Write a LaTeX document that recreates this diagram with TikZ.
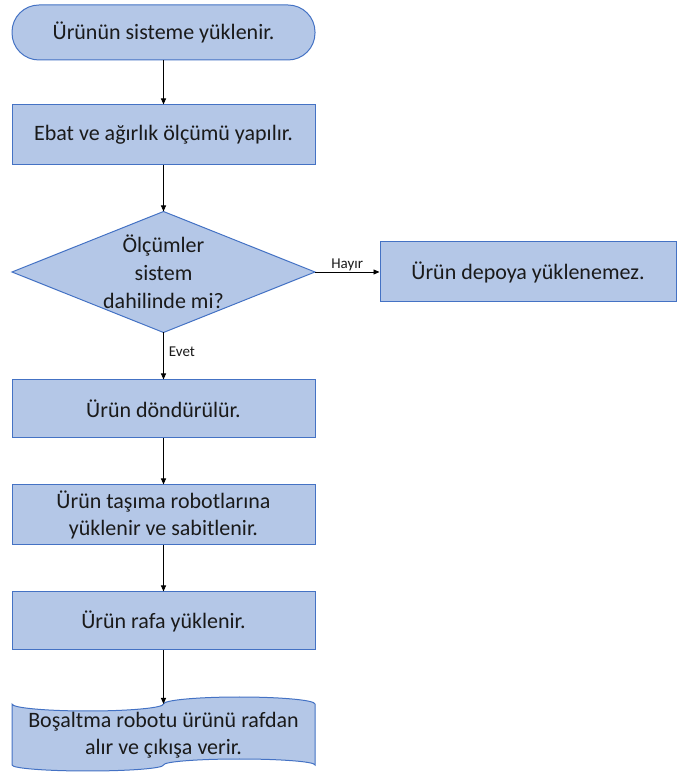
\documentclass[tikz,border=0pt]{standalone}
\usepackage{fontspec}
\setmainfont{Carlito}
\usetikzlibrary{arrows.meta}
\definecolor{boxfill}{HTML}{B4C7E7}
\definecolor{boxline}{HTML}{4472C4}
\definecolor{txt}{HTML}{1A1A1A}
\begin{document}
\begin{tikzpicture}[x=1pt,y=1pt,
  stepbox/.style={draw=boxline, fill=boxfill, line width=1pt, minimum width=303pt, minimum height=60pt, inner sep=0pt, align=center, font=\fontsize{22}{27}\selectfont, text=txt},
  shapeline/.style={draw=boxline, fill=boxfill, line width=1pt},
  plaintext/.style={align=center, inner sep=0pt, font=\fontsize{22}{28}\selectfont, text=txt},
  conn/.style={line width=0.9pt, -{Triangle[length=6pt,width=5pt]}},
  lbl/.style={font=\fontsize{15}{18}\selectfont, inner sep=1pt, text=txt}]
\useasboundingbox (0,0) rectangle (677,772);

% terminal
\node[stepbox, rounded corners=27pt, minimum height=55pt] (start) at (163.5,739.5) {Ürünün sisteme yüklenir.};
% measure
\node[stepbox] (measure) at (163.5,637) {Ebat ve ağırlık ölçümü yapılır.};
% decision
\coordinate (dtop) at (163.5,560.5);
\coordinate (dbot) at (163.5,439.5);
\coordinate (dleft) at (12,500);
\coordinate (dright) at (315,500);
\path[shapeline] (dtop) -- (dright) -- (dbot) -- (dleft) -- cycle;
\node[plaintext] (dtext) at (163.5,500) {Ölçümler\\sistem\\dahilinde mi?};
% no branch
\node[stepbox, minimum width=296pt] (hayir) at (528,500) {Ürün depoya yüklenemez.};
% yes chain
\node[stepbox, minimum height=58pt] (rotate) at (163.5,363) {Ürün döndürülür.};
\node[stepbox] (load) at (163.5,257) {Ürün taşıma robotlarına\\yüklenir ve sabitlenir.};
\node[stepbox, minimum height=58pt] (shelf) at (163.5,151) {Ürün rafa yüklenir.};
% punched tape document
\coordinate (doctop) at (163.5,68);
\path[shapeline] (12,68) arc[start angle=180, end angle=360, x radius=75.75, y radius=7]
  arc[start angle=180, end angle=0, x radius=75.75, y radius=7]
  -- (315,7)
  arc[start angle=0, end angle=180, x radius=75.75, y radius=6]
  arc[start angle=0, end angle=-180, x radius=75.75, y radius=6]
  -- cycle;
\node[plaintext, font=\fontsize{22}{27}\selectfont] (doc) at (163.5,37) {Boşaltma robotu ürünü rafdan\\alır ve çıkışa verir.};

% connectors
\draw[conn] (start) -- (measure);
\draw[conn] (measure) -- (dtop);
\draw[conn] (dright) -- node[lbl, above] {Hayır} (hayir.west);
\draw[conn] (dbot) -- node[lbl, right, pos=0.4, xshift=4pt] {Evet} (rotate.north);
\draw[conn] (rotate) -- (load);
\draw[conn] (load) -- (shelf);
\draw[conn] (shelf) -- (doctop);
\end{tikzpicture}
\end{document}
